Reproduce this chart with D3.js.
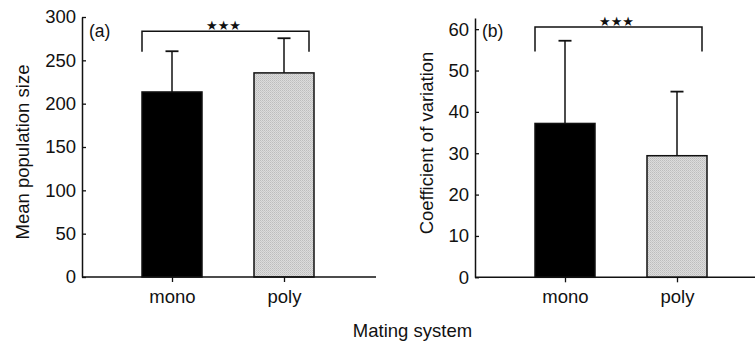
<!DOCTYPE html>
<html>
<head>
<meta charset="utf-8">
<script src="https://cdn.jsdelivr.net/npm/d3@7"></script>
<style>
  body { margin: 0; background: #fff; }
  text { font-family: Helvetica, "Liberation Sans", Arial, sans-serif; fill: #111; }
</style>
</head>
<body>
<div id="chart"></div>
<script>
// categories
const systems = ["mono", "poly"];
// (a) mean population size and its error (upper bar only)
const popMean = [213.5, 235.5];
const popErr  = [47, 40];
// (b) coefficient of variation and its error
const cvMean = [37.2, 29.4];
const cvErr  = [20, 15.5];
// tick values
const popTicks = [0, 50, 100, 150, 200, 250, 300];
const cvTicks  = [0, 10, 20, 30, 40, 50, 60];

const W = 755, H = 345;

const svg = d3.select("#chart").append("svg")
  .attr("width", W).attr("height", H);

// stippled grey fill for the "poly" bar
const pat = svg.append("defs").append("pattern")
  .attr("id", "stipple")
  .attr("width", 2).attr("height", 2)
  .attr("patternUnits", "userSpaceOnUse");
pat.append("rect").attr("width", 2).attr("height", 2).attr("fill", "#dcdcdc");
pat.append("rect").attr("width", 1).attr("height", 1).attr("fill", "#bdbdbd");
pat.append("rect").attr("x", 1).attr("y", 1).attr("width", 1).attr("height", 1).attr("fill", "#c9c9c9");

function drawPanel(p) {
  const g = svg.append("g");

  const y = d3.scaleLinear().domain([0, p.yMax]).range([p.y0, p.yTop]);
  const x = d3.scalePoint().domain(systems).range([p.ax + 90, p.ax + 202]);
  const bw = 60;

  const data = systems.map((s, i) => ({ s, mean: p.mean[i], err: p.err[i] }));

  // error bars (upper only)
  g.selectAll(".err").data(data).enter().append("line")
    .attr("x1", d => x(d.s)).attr("x2", d => x(d.s))
    .attr("y1", d => y(d.mean)).attr("y2", d => y(d.mean + d.err))
    .attr("stroke", "#111").attr("stroke-width", 1.5);
  g.selectAll(".cap").data(data).enter().append("line")
    .attr("x1", d => x(d.s) - 6.5).attr("x2", d => x(d.s) + 6.5)
    .attr("y1", d => y(d.mean + d.err)).attr("y2", d => y(d.mean + d.err))
    .attr("stroke", "#111").attr("stroke-width", 1.8);

  // bars
  g.selectAll(".bar").data(data).enter().append("rect")
    .attr("x", d => x(d.s) - bw / 2)
    .attr("y", d => y(d.mean))
    .attr("width", bw)
    .attr("height", d => y(0) - y(d.mean))
    .attr("fill", (d, i) => i === 0 ? "#000" : "url(#stipple)")
    .attr("stroke", "#111").attr("stroke-width", 1.5);

  // y axis, ticks pointing inward
  const yAxis = d3.axisLeft(y).tickValues(p.ticks)
    .tickSizeInner(-4).tickSizeOuter(0).tickPadding(6);
  const ya = g.append("g").attr("transform", `translate(${p.ax},0)`).call(yAxis);
  ya.select(".domain").attr("stroke", "#111").attr("stroke-width", 1.5);
  ya.selectAll(".tick line").attr("stroke", "#111").attr("stroke-width", 1.3);
  ya.selectAll("text").style("font-size", "18.5px").attr("fill", "#111");

  // x axis
  g.append("line")
    .attr("x1", p.ax).attr("x2", p.xEnd)
    .attr("y1", y(0)).attr("y2", y(0))
    .attr("stroke", "#111").attr("stroke-width", 1.5);
  const xAxis = d3.axisBottom(x).tickSizeInner(5).tickSizeOuter(0).tickPadding(8);
  const xa = g.append("g").attr("transform", `translate(0,${y(0)})`).call(xAxis);
  xa.select(".domain").remove();
  xa.selectAll(".tick line").attr("stroke", "#111").attr("stroke-width", 1.3);
  xa.selectAll("text").style("font-size", "18.5px").attr("fill", "#111");

  // y title
  g.append("text")
    .attr("transform", `translate(${p.titleX},${p.titleY}) rotate(-90)`)
    .attr("text-anchor", "middle")
    .style("font-size", "18.5px")
    .text(p.title);

  // panel letter
  g.append("text")
    .attr("x", p.ax + 7).attr("y", 37)
    .style("font-size", "17.5px")
    .text(p.letter);

  // significance bracket
  const bx1 = x("mono") - 30, bx2 = x("poly") + 25;
  const by = y(p.bracketTop), bl = y(p.bracketLeg);
  g.append("path")
    .attr("d", `M${bx1},${bl}V${by}H${bx2}V${bl}`)
    .attr("fill", "none").attr("stroke", "#111").attr("stroke-width", 1.5);
  g.append("text")
    .attr("x", (bx1 + bx2) / 2 - 2).attr("y", by - 1)
    .attr("text-anchor", "middle")
    .style("font-family", "'DejaVu Sans', sans-serif")
    .style("font-size", "13px")
    .text("★★★");
}

drawPanel({
  ax: 82, y0: 277, yTop: 17, yMax: 300, xEnd: 376,
  mean: popMean, err: popErr, ticks: popTicks,
  title: "Mean population size", titleX: 29, titleY: 152,
  letter: "(a)", bracketTop: 283.5, bracketLeg: 260
});

drawPanel({
  ax: 475, y0: 277.3, yTop: 18, yMax: 62.7, xEnd: 755,
  mean: cvMean, err: cvErr, ticks: cvTicks,
  title: "Coefficient of variation", titleX: 433, titleY: 143,
  letter: "(b)", bracketTop: 60.5, bracketLeg: 54.6
});

// shared x title
svg.append("text")
  .attr("x", 412.5).attr("y", 336.5)
  .attr("text-anchor", "middle")
  .style("font-size", "18.5px")
  .text("Mating system");
</script>
</body>
</html>
